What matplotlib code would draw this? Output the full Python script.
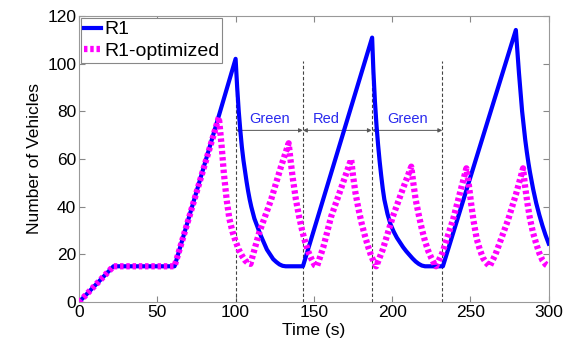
import matplotlib
matplotlib.use("Agg")
import matplotlib.pyplot as plt

plt.rcParams["font.family"] = ["Liberation Sans", "DejaVu Sans"]

# R1 (fixed timing) queue length
r1_time = [0, 22, 61, 100,
           101, 102, 103, 104, 105, 106, 107, 108, 109, 110, 112, 114, 116, 118, 120,
           122, 124, 126, 128, 130, 132, 143,
           187.2, 188, 189, 190, 191, 192, 193, 194, 195, 197, 199, 201, 203, 205, 207,
           209, 211, 213, 215, 217, 219, 221, 232.4,
           279, 280, 281, 282, 283, 284, 285, 286, 287, 288, 289, 290, 291, 292, 294,
           296, 298, 300]
r1_vehicles = [0, 15, 15, 102,
               90, 80, 72, 65, 59.5, 55, 50.5, 46.5, 43, 40, 35, 31.5, 28, 25, 22,
               20, 18, 16.8, 15.8, 15.2, 15, 15,
               110.9, 97, 84, 74, 66, 59, 53, 47.5, 43, 37, 32.5, 29.5, 27, 25, 23,
               21.3, 19.8, 18.3, 17, 16, 15.3, 15, 15,
               114.1, 105, 96, 88, 80, 74, 68, 63, 58.5, 54.5, 51, 47.5, 44.5, 41.5, 36.5,
               32, 28, 24.5]

# R1-optimized queue length
opt_time = [0, 22, 61, 89.3,
            91, 92.5, 94.3, 96, 98, 100, 102, 104, 106, 108, 109.5,
            115, 122.6, 129, 133.9,
            135, 136.5, 138.5, 140.5, 142.5, 144.5, 146.5, 148.5, 150.5, 152,
            156, 161, 167, 173.8,
            175, 176.5, 178.5, 180.5, 182.5, 184.5, 186.5, 188.5, 189.8,
            194, 200.4, 206, 212.2,
            213.5, 215, 217, 219, 221, 223, 225, 226.5, 228,
            232, 238.8, 243, 247.4,
            249, 250.5, 252, 254, 256, 258, 260, 262.3,
            266, 274, 279, 283.6,
            285, 286.5, 288, 290, 292, 294, 296, 298, 300]
opt_vehicles = [0, 15, 15, 77.5,
                66, 54, 42.8, 35, 29.5, 25.5, 22, 19.5, 17.5, 16.3, 16,
                29, 42.8, 56.8, 66.6,
                60, 52, 43, 36, 30, 25, 21, 18, 15.5, 15,
                23, 35.8, 47, 59.9,
                53, 46, 39, 33, 28, 23.5, 19.5, 16.5, 15,
                22, 35.8, 46, 56.8,
                50, 43, 36.5, 30.5, 25.5, 21.5, 18.5, 16.5, 15,
                20.5, 34.4, 45, 56.1,
                49, 41, 34, 26.5, 22, 18.5, 16.5, 15,
                20, 34.4, 45, 56.1,
                48, 41, 35, 29, 24.5, 20.5, 17.5, 15.8, 15]

# phase boundaries and labels
phase_edges = [100, 143, 187, 232]
phase_labels = ["Green", "Red", "Green"]
phase_label_x = [121.5, 158, 210]
dash_top = 101
arrow_y = 72

fig = plt.figure(figsize=(5.77, 3.46), dpi=100)
ax = fig.add_axes([0.137, 0.127, 0.814, 0.827])

ax.plot(r1_time, r1_vehicles, color="#0000ff", lw=3, solid_joinstyle="round",
        label="R1", zorder=3)
ax.plot(opt_time, opt_vehicles, color="#ff00ff", lw=4.5, linestyle=(0, (0.55, 0.45)),
        dash_capstyle="butt", label="R1-optimized", zorder=4)

for x in phase_edges:
    ax.plot([x, x], [0, dash_top], color="#444444", lw=0.8, ls=(0, (3, 2)), zorder=2)

for left, right, label, lx in zip(phase_edges[:-1], phase_edges[1:], phase_labels, phase_label_x):
    ax.annotate("", xy=(left, arrow_y), xytext=(right, arrow_y),
                arrowprops=dict(arrowstyle="<|-|>", color="#555555", lw=0.7,
                                mutation_scale=6, shrinkA=0, shrinkB=0), zorder=2)
    ax.text(lx, arrow_y + 2.0, label, color="#2a2aee", fontsize=10.5,
            ha="center", va="bottom", zorder=5)

ax.set_xlim(0, 300)
ax.set_ylim(0, 120)
ax.set_xticks(range(0, 301, 50))
ax.set_yticks(range(0, 121, 20))
ax.tick_params(direction="in", top=True, right=True, length=4, color="#888888",
               labelsize=12.5, pad=2)
for spine in ax.spines.values():
    spine.set_color("#999999")
    spine.set_linewidth(0.8)

ax.set_xlabel("Time (s)", fontsize=12.5, labelpad=2)
ax.set_ylabel("Number of Vehicles", fontsize=12.5, labelpad=4)

leg = ax.legend(loc="upper left", fontsize=14, handlelength=0.9, handletextpad=0.15,
                borderpad=0.15, labelspacing=0.2, borderaxespad=0.1, fancybox=False,
                framealpha=1)
leg.get_frame().set_edgecolor("#888888")
leg.get_frame().set_linewidth(0.8)

fig.savefig("out.png", dpi=100)
